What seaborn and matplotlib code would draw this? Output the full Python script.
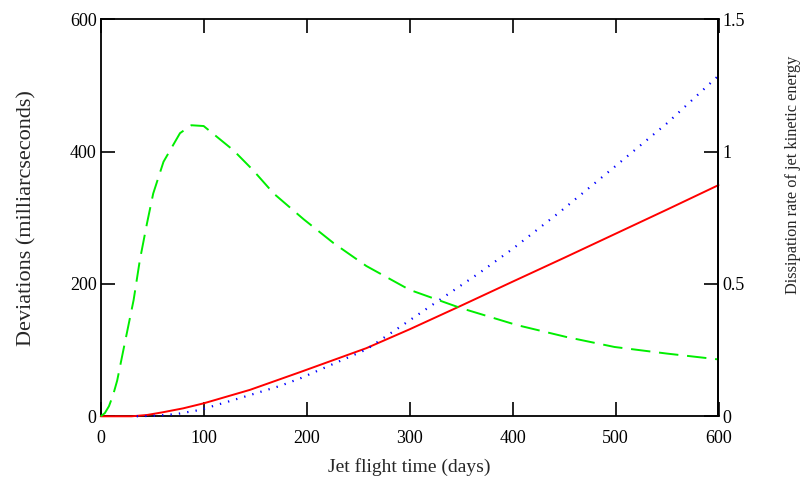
import matplotlib
matplotlib.use("Agg")
import matplotlib.pyplot as plt
import seaborn as sns
import pandas as pd

# ---- data ----
red_t = [0, 30, 45, 60, 80, 100, 145, 194, 258, 300, 349, 400, 450, 500, 550, 600]
red_v = [0, 0, 2, 6, 12, 19.6, 40, 67, 103, 131.5, 166.5, 203.5, 239.5, 276, 312.5, 349.5]

blue_t = [35, 55, 74, 96, 129, 174, 194, 258, 291, 329, 368, 400, 446, 499, 550, 600]
blue_v = [0, 1, 3.5, 9.5, 24.6, 45.8, 57.5, 101, 135.5, 175.8, 217, 253, 309, 377, 443, 515]

green_t = [0, 4, 8, 12, 16, 22, 32, 38, 45, 51, 61, 77, 88, 100, 129, 148, 168, 197,
           226, 258, 300, 349, 404, 452, 499, 550, 600]
green_v = [0, 0.012, 0.038, 0.08, 0.135, 0.25, 0.44, 0.59, 0.73, 0.842, 0.962, 1.07, 1.10,
           1.097, 1.005, 0.93, 0.842, 0.745, 0.655, 0.568, 0.478, 0.41, 0.345, 0.30, 0.262,
           0.237, 0.215]

x_ticks = [0, 100, 200, 300, 400, 500, 600]
left_ticks = [0, 200, 400, 600]
right_ticks = [0, 0.5, 1, 1.5]
right_tick_labels = ["0", "0.5", "1", "1.5"]

x_label = "Jet flight time (days)"
left_label = "Deviations (milliarcseconds)"
right_label = "Dissipation rate of jet kinetic energy"

# ---- styling ----
sns.set_style("white")
plt.rcParams["font.family"] = ["Liberation Serif", "DejaVu Serif"]

fig = plt.figure(figsize=(8.06, 4.88), dpi=100)
ax = fig.add_axes([100.7 / 806, (488 - 416.3) / 488, (718.5 - 100.7) / 806, (416.3 - 19.4) / 488])
ax2 = ax.twinx()

df_red = pd.DataFrame({"t": red_t, "v": red_v})
df_blue = pd.DataFrame({"t": blue_t, "v": blue_v})
df_green = pd.DataFrame({"t": green_t, "v": green_v})

sns.lineplot(data=df_red, x="t", y="v", ax=ax, color="#ff0000", lw=1.4, sort=False)
sns.lineplot(data=df_blue, x="t", y="v", ax=ax, color="#0000ff", lw=1.6, sort=False)
ax.lines[-1].set_dashes((0.6, 3.2))
for ln in ax.lines:
    ln.set_clip_on(False)
    ln.set_zorder(3)
sns.lineplot(data=df_green, x="t", y="v", ax=ax2, color="#00ee00", lw=1.4, sort=False)
ax2.lines[-1].set_dashes((10, 4.5))
ax2.lines[-1].set_clip_on(False)

ax.set_xlim(0, 600)
ax.set_ylim(0, 600)
ax2.set_ylim(0, 1.5)

ax.set_xticks(x_ticks)
ax.set_xticklabels([str(v) for v in x_ticks])
ax.set_yticks(left_ticks)
ax.set_yticklabels([str(v) for v in left_ticks])
ax2.set_yticks(right_ticks)
ax2.set_yticklabels(right_tick_labels)

for a in (ax, ax2):
    for s in a.spines.values():
        s.set_color("black")
        s.set_linewidth(1.3)
ax2.spines["bottom"].set_visible(False)
ax2.spines["left"].set_visible(False)
ax2.spines["top"].set_visible(False)

ax.tick_params(axis="x", direction="in", length=10, width=1.2, top=True, bottom=True,
               labelsize=13, pad=10, colors="black")
ax.tick_params(axis="y", direction="in", length=10, width=1.2, left=True, right=False,
               labelsize=13, pad=3, colors="black")
ax2.tick_params(axis="y", direction="in", length=10, width=1.2, right=True,
                labelsize=13, pad=3, colors="black")

ax.set_xlabel(x_label, fontsize=14, labelpad=8)
ax.set_ylabel(left_label, fontsize=16, labelpad=24)
ax2.set_ylabel(right_label, fontsize=11.8)
ax2.yaxis.set_label_coords((785 - 100.7) / 617.8, (416.3 - 175) / 396.9)

fig.savefig("out.png", dpi=100, facecolor="white")
